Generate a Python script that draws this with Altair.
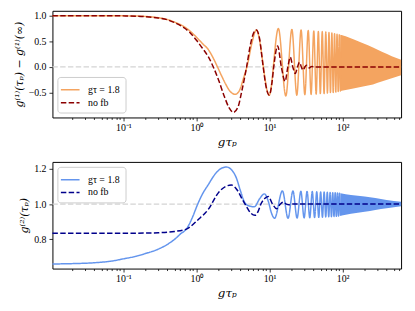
import altair as alt
import pandas as pd

# ---------------- data ----------------
LABEL_FB = "gτ = 1.8"
LABEL_NO = "no fb"
X_DOMAIN = [0.0107, 630]

# top panel: g1(tau_p) - g1(inf), with feedback (orange, resolved part)
top_fb_x = [0.0107, 0.03, 0.06, 0.1, 0.15, 0.2, 0.3, 0.4, 0.5, 0.65, 0.8, 1.0, 1.2, 1.45,
            1.7, 1.94, 2.2, 2.5, 2.9, 3.4, 3.9, 4.4, 5.0, 5.7,
            6.6, 9.9, 13.2, 16.7, 20.2, 23.6, 27.0, 30.4, 33.8, 37.0, 40.3, 43.4, 46.5,
            49.5, 52.6, 55.7, 58.8, 61.9, 65.0, 68.1, 71.2, 74.3, 77.5, 80.6, 83.8,
            86.9, 90.0, 93.1, 96.2]
top_fb_y = [1.0, 1.0, 0.999, 0.997, 0.993, 0.985, 0.96, 0.925, 0.875, 0.8, 0.71, 0.58, 0.46, 0.34,
            0.17, 0.0, -0.17, -0.33, -0.48, -0.533, -0.45, -0.22, 0.05, 0.45,
            0.72, -0.55, 0.75, -0.565, 0.73, -0.55, 0.72, -0.54, 0.71, -0.535, 0.70, -0.53, 0.69,
            -0.52, 0.69, -0.52, 0.68, -0.51, 0.67, -0.50, 0.66, -0.50, 0.65, -0.49, 0.64,
            -0.48, 0.63, -0.47, 0.62]
# top panel: dense oscillation band (envelope)
top_band_x = [93.1, 110, 140, 190, 260, 350, 470, 630]
top_band_hi = [0.63, 0.60, 0.54, 0.46, 0.38, 0.29, 0.21, 0.14]
top_band_lo = [-0.47, -0.45, -0.42, -0.38, -0.34, -0.28, -0.22, -0.16]
# top panel: no feedback (dark red dashed)
top_no_x = [0.0107, 0.03, 0.06, 0.1, 0.15, 0.2, 0.3, 0.4, 0.5, 0.65, 0.8, 1.0, 1.2, 1.45,
            1.7, 2.0, 2.4, 2.8, 3.2, 3.7, 4.2, 4.85, 5.5, 6.0, 6.6, 7.3, 8.1, 9.0, 9.9,
            10.8, 11.4, 12.9, 14.5, 16.3, 17.8, 19.2, 20.8, 22.5, 24.1, 25.7, 27.2, 28.8,
            30.4, 32.0, 33.5, 35.0, 36.5, 38.0, 40.0, 60.0, 100.0, 630.0]
top_no_y = [1.0, 1.0, 0.999, 0.996, 0.99, 0.98, 0.955, 0.92, 0.865, 0.78, 0.68, 0.52, 0.37, 0.2,
            0.0, -0.25, -0.57, -0.8, -0.885, -0.78, -0.45, 0.0, 0.45, 0.65, 0.72, 0.55, 0.05, -0.4, -0.55,
            -0.3, 0.0, 0.41, 0.0, -0.28, 0.0, 0.19, 0.0, -0.13, 0.0, 0.09, 0.0, -0.06,
            0.0, 0.035, 0.0, -0.02, 0.0, 0.01, 0.0, 0.0, 0.0, 0.0]

# bottom panel: g2(tau_p), with feedback (blue, resolved part)
bot_fb_x = [0.0107, 0.02, 0.04, 0.07, 0.1, 0.15, 0.2, 0.3, 0.4, 0.5, 0.6, 0.74, 0.87, 1.04,
            1.2, 1.45, 1.8, 2.2, 2.57, 3.0, 3.5, 4.0, 4.56, 5.2, 6.2, 7.3, 8.5, 9.7, 10.6,
            11.7, 15.0, 17.9, 20.9, 23.8, 26.8, 29.7, 32.6, 35.5, 38.4, 41.3, 44.2, 47.1,
            50.0, 52.9, 55.8, 58.7, 61.6, 64.5, 67.4, 70.3, 73.2, 76.1, 79.0, 81.9, 84.8,
            87.7, 90.6, 93.5]
bot_fb_y = [0.661, 0.663, 0.668, 0.678, 0.69, 0.705, 0.72, 0.745, 0.772, 0.8, 0.83, 0.863, 0.92, 1.0,
            1.055, 1.11, 1.17, 1.203, 1.21, 1.195, 1.15, 1.075, 1.01, 0.99, 0.985, 1.03, 1.058, 1.01, 0.95,
            0.92, 1.075, 0.92, 1.074, 0.921, 1.073, 0.922, 1.072, 0.923, 1.071, 0.924, 1.07, 0.925,
            1.069, 0.926, 1.068, 0.927, 1.067, 0.928, 1.066, 0.929, 1.065, 0.93, 1.064, 0.931, 1.063,
            0.932, 1.062, 0.934]
bot_band_x = [93.5, 130, 200, 280, 400, 630]
bot_band_hi = [1.062, 1.052, 1.043, 1.034, 1.024, 1.013]
bot_band_lo = [0.934, 0.946, 0.957, 0.967, 0.977, 0.988]
# bottom panel: no feedback (navy dashed)
bot_no_x = [0.0107, 0.05, 0.1, 0.2, 0.3, 0.5, 0.74, 1.06, 1.45, 2.0, 2.5, 3.0, 3.6, 4.2,
            4.78, 5.5, 6.33, 7.0, 7.6, 8.5, 9.6, 11.0, 12.5, 14.0, 15.4, 17.0, 18.5, 20.0,
            25.0, 630.0]
bot_no_y = [0.835, 0.835, 0.835, 0.836, 0.838, 0.845, 0.86, 0.913, 0.97, 1.065, 1.1, 1.108, 1.08, 1.03,
            0.99, 0.95, 0.937, 0.96, 1.0, 1.03, 1.043, 1.0, 0.974, 1.0, 1.011, 1.0, 0.996, 1.0,
            1.0, 1.0]

# reference (dashed grey) levels
top_ref = [0.0]
bot_ref = [1.0]

# tick values of the log axis (major + minor)
major_ticks = [0.1, 1, 10, 100]
minor_ticks = [0.02, 0.03, 0.04, 0.05, 0.06, 0.07, 0.08, 0.09,
               0.2, 0.3, 0.4, 0.5, 0.6, 0.7, 0.8, 0.9,
               2, 3, 4, 5, 6, 7, 8, 9,
               20, 30, 40, 50, 60, 70, 80, 90,
               200, 300, 400, 500, 600]

# ---------------- styling ----------------
FONT = "Liberation Serif"
TFONT = "DejaVu Serif"
ORANGE = "#f4a460"
DARKRED = "#8b0000"
BLUE = "#6495ed"
NAVY = "#00008b"
DASH = [5.5, 2.4]
W, H = 353, 108

major_test = " || ".join(f"datum.value == {v}" for v in major_ticks)
label_expr = ("datum.value == 0.1 ? '10⁻¹' : datum.value == 1 ? '10⁰' : "
              "datum.value == 10 ? '10¹' : datum.value == 100 ? '10²' : ''")


def x_enc(field="x"):
    return alt.X(
        f"{field}:Q",
        scale=alt.Scale(type="log", domain=X_DOMAIN, nice=False),
        axis=alt.Axis(
            values=major_ticks + minor_ticks,
            labelExpr=label_expr,
            title="gτₚ",
            grid=False,
            domain=False,
            tickColor="black",
            tickWidth=0.8,
            tickSize={"condition": {"test": major_test, "value": 3.5}, "value": 2},
            labelFont=FONT,
            labelFontSize=10,
            labelColor="black",
            labelPadding=2,
            titleFont=TFONT,
            titleFontSize=12,
            titleFontStyle="italic",
            titleFontWeight="normal",
            titleColor="black",
            titlePadding=4,
        ),
    )


def y_axis(values, title):
    return alt.Axis(
        values=values,
        format=".1f",
        title=title,
        grid=False,
        domain=False,
        tickColor="black",
        tickWidth=0.8,
        tickSize=3.5,
        labelFont=FONT,
        labelFontSize=10,
        labelColor="black",
        labelPadding=3,
        titleFont=TFONT,
        titleFontSize=11,
        titleFontStyle="italic",
        titleFontWeight="normal",
        titleColor="black",
        titlePadding=4,
    )


def panel(fb_x, fb_y, no_x, no_y, band_x, band_hi, band_lo, ref, c_fb, c_no,
          ydomain, yvalues, ytitle, legend_orient):
    yscale = alt.Scale(domain=ydomain, nice=False, zero=False)
    yax = y_axis(yvalues, ytitle)

    lines = pd.concat([
        pd.DataFrame({"x": fb_x, "y": fb_y, "series": LABEL_FB, "k": 0}),
        pd.DataFrame({"x": no_x, "y": no_y, "series": LABEL_NO, "k": 1}),
    ])
    band = pd.DataFrame({"x": band_x, "y": band_hi, "y2": band_lo})
    refdf = pd.DataFrame({"y": ref})

    rule = alt.Chart(refdf).mark_rule(
        color="#d3d3d3", strokeDash=DASH, strokeWidth=1.3
    ).encode(y=alt.Y("y:Q", scale=yscale, axis=yax))

    area = alt.Chart(band).mark_area(color=c_fb, opacity=1, interpolate="monotone").encode(
        x=x_enc(), y=alt.Y("y:Q", scale=yscale, axis=yax), y2="y2:Q"
    )

    legend = alt.Legend(
        title=None,
        orient=legend_orient,
        offset=5,
        symbolType="M-1.35,0H1.35",
        symbolSize=196,
        symbolStrokeWidth=1.5,
        labelFont=FONT,
        labelFontSize=10,
        labelColor="black",
        labelOffset=10,
        rowPadding=0,
        fillColor="white",
        strokeColor="#cccccc",
        cornerRadius=3,
        padding=5,
    )
    line = alt.Chart(lines).mark_line(strokeWidth=1.5, interpolate="monotone").encode(
        x=x_enc(),
        y=alt.Y("y:Q", scale=yscale, axis=yax),
        color=alt.Color("series:N", scale=alt.Scale(domain=[LABEL_FB, LABEL_NO], range=[c_fb, c_no]),
                        legend=legend),
        strokeDash=alt.StrokeDash("series:N",
                                  scale=alt.Scale(domain=[LABEL_FB, LABEL_NO], range=[[1, 0], DASH]),
                                  legend=legend),
        order="x:Q",
        detail="k:Q",
    )
    return alt.layer(rule, area, line).properties(width=W, height=H)


top = panel(top_fb_x, top_fb_y, top_no_x, top_no_y, top_band_x, top_band_hi, top_band_lo,
            top_ref, ORANGE, DARKRED, [-0.985, 1.095], [-0.5, 0.0, 0.5, 1.0],
            "g⁽¹⁾(τₚ) − g⁽¹⁾(∞)", "bottom-left")
bottom = panel(bot_fb_x, bot_fb_y, bot_no_x, bot_no_y, bot_band_x, bot_band_hi, bot_band_lo,
               bot_ref, BLUE, NAVY, [0.635, 1.239], [0.8, 1.0, 1.2],
               "g⁽²⁾(τₚ)", "top-left")

chart = alt.vconcat(top, bottom, spacing=13).resolve_scale(
    color="independent", strokeDash="independent"
).properties(
    padding={"left": 4, "top": 0, "right": 2, "bottom": 0},
    background="white",
).configure_view(stroke="black", strokeWidth=1)

chart.save("out.html", embed_options={"renderer": "svg", "actions": False})
